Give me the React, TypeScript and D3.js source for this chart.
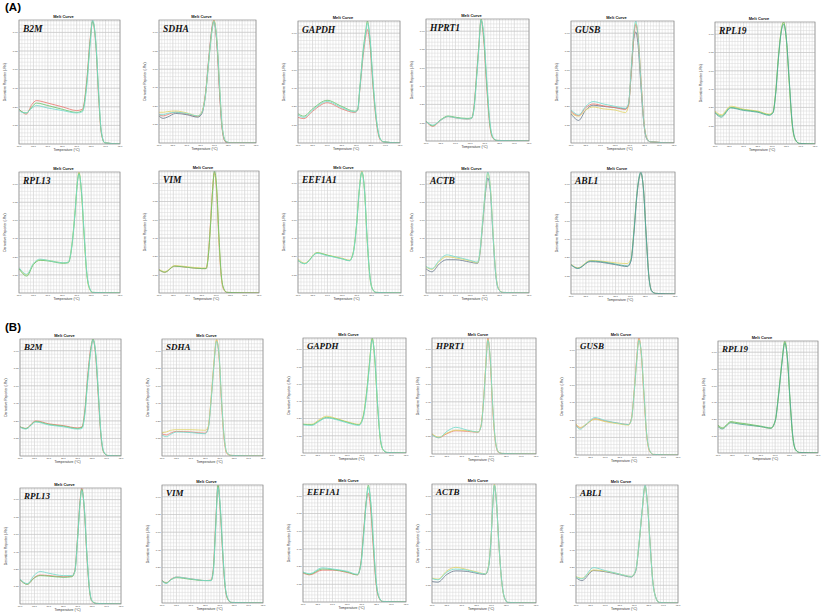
import React from "react";
import * as d3 from "d3";

// ---------- axis ticks ----------
const X_TICKS = [60, 65, 70, 75, 80, 85, 90, 95];
const Y_TICKS = [0.15, 0.3, 0.45, 0.6, 0.75, 0.9];

const COLORS: Record<string, string> = {
  red: "#ea7d74",
  green: "#6cc46c",
  cyan: "#76dccc",
  yellow: "#e2d46a",
  gray: "#6f7f92",
  teal: "#4fae9c",
};

// ---------- (A) panels ----------
const A_B2M_T = [60, 61, 62.5, 64.5, 66, 70, 75, 80, 82, 83.5, 84.7, 85.5, 86.7, 87.6, 88.5, 89.7, 95];
const A_B2M_V = [
  [0.28, 0.26, 0.24, 0.32, 0.35, 0.33, 0.3, 0.27, 0.28, 0.52, 0.86, 0.99, 0.77, 0.37, 0.09, 0.01, 0],
  [0.28, 0.26, 0.25, 0.3, 0.33, 0.31, 0.28, 0.255, 0.27, 0.5, 0.84, 0.99, 0.79, 0.4, 0.1, 0.01, 0],
  [0.27, 0.255, 0.25, 0.29, 0.31, 0.29, 0.27, 0.25, 0.26, 0.47, 0.82, 1.0, 0.8, 0.42, 0.11, 0.01, 0],
];
const A_B2M_C = ["red", "green", "cyan"];

const A_SDHA_T = [60, 61.5, 63, 66, 70, 74, 75.5, 76.8, 78, 79.2, 79.8, 81, 82, 82.8, 84, 86, 95];
const A_SDHA_V = [
  [0.23, 0.22, 0.23, 0.25, 0.235, 0.215, 0.25, 0.41, 0.7, 0.95, 1.0, 0.76, 0.35, 0.11, 0.01, 0, 0],
  [0.22, 0.2, 0.21, 0.24, 0.23, 0.21, 0.24, 0.4, 0.69, 0.94, 0.99, 0.78, 0.37, 0.12, 0.01, 0, 0],
  [0.25, 0.25, 0.255, 0.26, 0.245, 0.22, 0.255, 0.4, 0.68, 0.93, 1.0, 0.8, 0.4, 0.13, 0.015, 0, 0],
  [0.23, 0.23, 0.24, 0.25, 0.24, 0.22, 0.25, 0.39, 0.67, 0.92, 0.99, 0.81, 0.42, 0.14, 0.02, 0, 0],
];
const A_SDHA_C = ["red", "gray", "yellow", "cyan"];

const A_GAPDH_T = [60, 62, 65, 70, 75, 79.5, 80.5, 81.2, 82.4, 83.3, 83.8, 84.7, 85.8, 87, 88.1, 89.3, 95];
const A_GAPDH_V = [
  [0.21, 0.2, 0.26, 0.33, 0.28, 0.25, 0.27, 0.43, 0.72, 0.88, 0.93, 0.8, 0.44, 0.15, 0.03, 0.01, 0],
  [0.24, 0.22, 0.28, 0.35, 0.3, 0.26, 0.28, 0.45, 0.77, 0.93, 1.0, 0.85, 0.47, 0.17, 0.04, 0.01, 0],
  [0.23, 0.21, 0.27, 0.34, 0.29, 0.255, 0.27, 0.44, 0.75, 0.91, 0.98, 0.86, 0.49, 0.18, 0.04, 0.01, 0],
];
const A_GAPDH_C = ["red", "green", "cyan"];

const A_HPRT1_T = [60, 62.3, 65, 67.5, 70, 74, 75.5, 76.3, 77.2, 78, 78.7, 79.6, 80.6, 81.7, 82.8, 84, 95];
const A_HPRT1_V = [
  [0.16, 0.12, 0.17, 0.2, 0.19, 0.18, 0.185, 0.28, 0.55, 0.8, 0.99, 0.83, 0.45, 0.12, 0.02, 0.005, 0],
  [0.165, 0.125, 0.175, 0.205, 0.195, 0.185, 0.19, 0.27, 0.53, 0.79, 1.0, 0.86, 0.49, 0.14, 0.025, 0.005, 0],
  [0.16, 0.13, 0.17, 0.2, 0.19, 0.18, 0.185, 0.26, 0.51, 0.77, 0.99, 0.88, 0.52, 0.16, 0.03, 0.005, 0],
];
const A_HPRT1_C = ["red", "green", "cyan"];

const A_GUSB_T = [60, 61, 62.6, 65, 67.5, 71, 75, 78.5, 79.5, 80.5, 81.3, 82, 82.8, 83.8, 84.8, 85.8, 87, 95];
const A_GUSB_V = [
  [0.24, 0.21, 0.185, 0.27, 0.31, 0.3, 0.29, 0.28, 0.31, 0.58, 0.84, 0.91, 0.8, 0.45, 0.15, 0.03, 0.01, 0],
  [0.25, 0.23, 0.22, 0.27, 0.295, 0.28, 0.27, 0.25, 0.3, 0.6, 0.88, 0.98, 0.88, 0.51, 0.17, 0.04, 0.01, 0],
  [0.26, 0.24, 0.225, 0.29, 0.32, 0.305, 0.29, 0.275, 0.31, 0.6, 0.87, 0.97, 0.86, 0.5, 0.16, 0.035, 0.01, 0],
  [0.27, 0.25, 0.23, 0.3, 0.34, 0.32, 0.3, 0.285, 0.32, 0.62, 0.9, 1.0, 0.87, 0.49, 0.16, 0.035, 0.01, 0],
];
const A_GUSB_C = ["gray", "yellow", "red", "cyan"];

const A_RPL19_T = [60, 62.2, 65.5, 70, 75, 79, 80.3, 81.2, 82.2, 83.2, 84, 85, 86, 87, 88.2, 89.5, 95];
const A_RPL19_V = [
  [0.27, 0.24, 0.31, 0.285, 0.27, 0.245, 0.265, 0.42, 0.72, 0.94, 1.0, 0.84, 0.49, 0.16, 0.03, 0.005, 0],
  [0.26, 0.23, 0.3, 0.28, 0.265, 0.24, 0.26, 0.41, 0.71, 0.93, 1.0, 0.85, 0.5, 0.17, 0.03, 0.005, 0],
  [0.255, 0.22, 0.295, 0.275, 0.26, 0.235, 0.255, 0.4, 0.7, 0.92, 0.98, 0.86, 0.52, 0.18, 0.035, 0.005, 0],
];
const A_RPL19_C = ["yellow", "green", "teal"];

const A_RPL13_T = [60, 62.7, 65, 67.3, 70, 75.4, 77.1, 78.3, 79.5, 80.2, 80.8, 81.7, 82.6, 83.5, 84.5, 85.5, 95];
const A_RPL13_V = [
  [0.205, 0.15, 0.24, 0.275, 0.27, 0.25, 0.255, 0.4, 0.7, 0.92, 1.0, 0.8, 0.45, 0.15, 0.03, 0.005, 0],
  [0.2, 0.14, 0.235, 0.27, 0.265, 0.245, 0.25, 0.38, 0.68, 0.9, 0.99, 0.82, 0.47, 0.16, 0.035, 0.005, 0],
  [0.21, 0.155, 0.245, 0.28, 0.27, 0.25, 0.255, 0.39, 0.69, 0.91, 0.98, 0.83, 0.48, 0.17, 0.04, 0.005, 0],
];
const A_RPL13_C = ["yellow", "green", "cyan"];

const A_VIM_T = [60, 62, 65.5, 70, 75, 76.5, 77.3, 78, 78.7, 79.4, 80.2, 81, 81.8, 82.7, 83.8, 95];
const A_VIM_V = [
  [0.19, 0.17, 0.22, 0.21, 0.2, 0.2, 0.33, 0.57, 0.84, 0.99, 0.82, 0.41, 0.13, 0.025, 0.005, 0],
  [0.195, 0.175, 0.225, 0.215, 0.205, 0.205, 0.32, 0.55, 0.82, 0.98, 0.85, 0.44, 0.14, 0.03, 0.005, 0],
  [0.19, 0.17, 0.22, 0.21, 0.2, 0.2, 0.31, 0.54, 0.81, 1.0, 0.86, 0.46, 0.15, 0.035, 0.005, 0],
];
const A_VIM_C = ["red", "yellow", "green"];

const A_EEF1A1_T = [60, 62.3, 66.5, 70, 75, 77.5, 78.7, 79.9, 80.8, 81.7, 82.6, 83.5, 84.4, 85.3, 86.5, 95];
const A_EEF1A1_V = [
  [0.28, 0.245, 0.33, 0.31, 0.285, 0.27, 0.33, 0.57, 0.85, 1.0, 0.83, 0.42, 0.13, 0.03, 0.005, 0],
  [0.265, 0.24, 0.33, 0.31, 0.28, 0.265, 0.32, 0.55, 0.83, 0.99, 0.85, 0.45, 0.15, 0.035, 0.005, 0],
  [0.27, 0.24, 0.325, 0.305, 0.28, 0.265, 0.32, 0.56, 0.84, 0.99, 0.84, 0.44, 0.14, 0.03, 0.005, 0],
];
const A_EEF1A1_C = ["yellow", "green", "cyan"];

const A_ACTB_T = [60, 62, 64.5, 67, 70, 75, 77.5, 78.2, 79.2, 80.2, 81, 81.9, 82.8, 83.7, 84.7, 86, 95];
const A_ACTB_V = [
  [0.2, 0.175, 0.24, 0.275, 0.275, 0.255, 0.245, 0.3, 0.55, 0.82, 0.95, 0.83, 0.46, 0.15, 0.03, 0.005, 0],
  [0.215, 0.195, 0.26, 0.3, 0.29, 0.265, 0.25, 0.31, 0.57, 0.85, 0.99, 0.87, 0.49, 0.17, 0.035, 0.005, 0],
  [0.22, 0.2, 0.27, 0.315, 0.3, 0.27, 0.255, 0.32, 0.58, 0.86, 1.0, 0.86, 0.48, 0.16, 0.03, 0.005, 0],
];
const A_ACTB_C = ["gray", "yellow", "cyan"];

const A_ABL1_T = [60, 62.3, 66.5, 70, 75, 79, 80.2, 81.2, 82.1, 82.9, 83.5, 84.4, 85.3, 86.2, 87.2, 88.5, 95];
const A_ABL1_V = [
  [0.245, 0.215, 0.275, 0.27, 0.255, 0.25, 0.29, 0.53, 0.8, 0.95, 0.99, 0.86, 0.48, 0.15, 0.025, 0.005, 0],
  [0.24, 0.21, 0.265, 0.26, 0.24, 0.225, 0.27, 0.5, 0.78, 0.94, 0.99, 0.86, 0.49, 0.15, 0.025, 0.005, 0],
  [0.24, 0.21, 0.27, 0.265, 0.245, 0.23, 0.28, 0.52, 0.8, 0.96, 1.0, 0.85, 0.47, 0.14, 0.02, 0.005, 0],
];
const A_ABL1_C = ["yellow", "gray", "teal"];

// ---------- (B) panels ----------
const B_B2M_T = [60, 62, 65.5, 70, 75, 80, 81.5, 82.5, 83.5, 84.5, 85.3, 86.2, 87.1, 88, 89, 90.3, 95];
const B_B2M_V = [
  [0.25, 0.235, 0.3, 0.275, 0.26, 0.24, 0.25, 0.4, 0.7, 0.92, 0.99, 0.86, 0.52, 0.18, 0.03, 0.005, 0],
  [0.25, 0.235, 0.295, 0.27, 0.255, 0.235, 0.245, 0.38, 0.67, 0.9, 1.0, 0.88, 0.55, 0.2, 0.035, 0.005, 0],
  [0.245, 0.23, 0.29, 0.265, 0.25, 0.23, 0.235, 0.36, 0.65, 0.89, 0.99, 0.89, 0.57, 0.21, 0.04, 0.005, 0],
];
const B_B2M_C = ["red", "green", "cyan"];

const B_SDHA_T = [60, 61.5, 63, 65, 70, 75, 76, 77, 78, 78.9, 79.8, 80.6, 81.5, 82.5, 84, 95];
const B_SDHA_V = [
  [0.19, 0.18, 0.195, 0.21, 0.205, 0.195, 0.24, 0.48, 0.79, 0.99, 0.83, 0.46, 0.15, 0.02, 0.005, 0],
  [0.2, 0.205, 0.22, 0.225, 0.225, 0.22, 0.25, 0.49, 0.8, 1.0, 0.85, 0.49, 0.17, 0.025, 0.005, 0],
  [0.18, 0.165, 0.185, 0.205, 0.2, 0.19, 0.23, 0.46, 0.77, 0.98, 0.86, 0.5, 0.18, 0.03, 0.005, 0],
];
const B_SDHA_C = ["red", "yellow", "cyan"];

const B_GAPDH_T = [60, 63, 65.5, 68, 72, 76, 79, 80.5, 81.6, 82.6, 83.5, 84.4, 85.3, 86.2, 87.2, 88.5, 95];
const B_GAPDH_V = [
  [0.25, 0.25, 0.29, 0.32, 0.295, 0.265, 0.25, 0.33, 0.53, 0.79, 0.99, 0.8, 0.42, 0.13, 0.025, 0.005, 0],
  [0.25, 0.245, 0.28, 0.31, 0.29, 0.26, 0.245, 0.32, 0.52, 0.78, 1.0, 0.82, 0.43, 0.14, 0.03, 0.005, 0],
  [0.245, 0.24, 0.275, 0.305, 0.285, 0.255, 0.24, 0.31, 0.5, 0.76, 0.98, 0.84, 0.45, 0.15, 0.03, 0.005, 0],
];
const B_GAPDH_C = ["yellow", "green", "cyan"];

const B_HPRT1_T = [60, 62.3, 65, 68, 72, 75.5, 76.5, 77.3, 78.1, 78.8, 79.6, 80.4, 81.3, 82.3, 83.5, 95];
const B_HPRT1_V = [
  [0.17, 0.14, 0.175, 0.2, 0.195, 0.187, 0.24, 0.44, 0.76, 1.0, 0.8, 0.4, 0.11, 0.015, 0.005, 0],
  [0.175, 0.145, 0.18, 0.205, 0.2, 0.19, 0.245, 0.45, 0.77, 0.99, 0.82, 0.42, 0.12, 0.02, 0.005, 0],
  [0.165, 0.14, 0.195, 0.23, 0.205, 0.19, 0.235, 0.43, 0.74, 0.98, 0.83, 0.44, 0.13, 0.02, 0.005, 0],
];
const B_HPRT1_C = ["red", "yellow", "cyan"];

const B_GUSB_T = [60, 61.5, 63, 66.5, 70, 75, 78, 79, 80, 80.8, 81.6, 82.4, 83.3, 84.2, 85.2, 86.5, 95];
const B_GUSB_V = [
  [0.26, 0.23, 0.25, 0.31, 0.29, 0.27, 0.26, 0.31, 0.56, 0.82, 1.0, 0.86, 0.51, 0.18, 0.035, 0.005, 0],
  [0.265, 0.235, 0.255, 0.305, 0.285, 0.265, 0.255, 0.3, 0.55, 0.8, 0.99, 0.87, 0.53, 0.19, 0.04, 0.005, 0],
  [0.25, 0.22, 0.25, 0.32, 0.295, 0.27, 0.26, 0.3, 0.54, 0.79, 0.98, 0.88, 0.55, 0.2, 0.045, 0.005, 0],
];
const B_GUSB_C = ["red", "yellow", "cyan"];

const B_RPL19_T = [60, 61.5, 64.5, 67, 70, 75, 78.5, 80, 81.2, 82.3, 83.4, 84.3, 85.2, 86.2, 87.2, 88.5, 95];
const B_RPL19_V = [
  [0.24, 0.22, 0.275, 0.265, 0.255, 0.235, 0.22, 0.28, 0.52, 0.79, 0.99, 0.84, 0.48, 0.14, 0.03, 0.005, 0],
  [0.25, 0.225, 0.28, 0.27, 0.26, 0.24, 0.225, 0.29, 0.53, 0.8, 1.0, 0.83, 0.46, 0.13, 0.025, 0.005, 0],
  [0.235, 0.215, 0.27, 0.26, 0.25, 0.235, 0.22, 0.28, 0.51, 0.78, 0.98, 0.85, 0.49, 0.15, 0.03, 0.005, 0],
];
const B_RPL19_C = ["yellow", "green", "teal"];

const B_RPL13_T = [60, 62.5, 65, 67, 70, 75, 78, 79, 80, 80.8, 81.4, 82.3, 83.2, 84.1, 85, 86.5, 95];
const B_RPL13_V = [
  [0.21, 0.17, 0.23, 0.25, 0.245, 0.235, 0.24, 0.29, 0.6, 0.89, 1.0, 0.8, 0.4, 0.11, 0.02, 0.005, 0],
  [0.21, 0.17, 0.225, 0.245, 0.24, 0.23, 0.235, 0.28, 0.58, 0.87, 0.99, 0.82, 0.42, 0.12, 0.025, 0.005, 0],
  [0.215, 0.175, 0.25, 0.28, 0.265, 0.245, 0.245, 0.28, 0.57, 0.86, 0.98, 0.83, 0.43, 0.13, 0.025, 0.005, 0],
];
const B_RPL13_C = ["red", "green", "cyan"];

const B_VIM_T = [60, 61.5, 63, 65, 70, 75, 77, 77.8, 78.6, 79.4, 80.2, 81, 81.8, 82.8, 84, 95];
const B_VIM_V = [
  [0.19, 0.17, 0.2, 0.22, 0.205, 0.19, 0.195, 0.3, 0.68, 0.99, 0.78, 0.43, 0.15, 0.03, 0.005, 0],
  [0.19, 0.17, 0.195, 0.215, 0.2, 0.19, 0.19, 0.28, 0.65, 1.0, 0.8, 0.45, 0.16, 0.035, 0.005, 0],
  [0.185, 0.165, 0.195, 0.22, 0.205, 0.19, 0.19, 0.27, 0.63, 0.98, 0.82, 0.47, 0.17, 0.04, 0.005, 0],
];
const B_VIM_C = ["red", "green", "cyan"];

const B_EEF1A1_T = [60, 62.3, 66.5, 70, 75, 78.5, 79.7, 80.6, 81.5, 82.2, 83, 83.9, 84.8, 85.8, 87, 95];
const B_EEF1A1_V = [
  [0.245, 0.23, 0.27, 0.27, 0.25, 0.23, 0.34, 0.6, 0.85, 0.92, 0.78, 0.45, 0.16, 0.035, 0.005, 0],
  [0.25, 0.235, 0.28, 0.275, 0.255, 0.23, 0.33, 0.58, 0.86, 0.99, 0.84, 0.5, 0.18, 0.04, 0.005, 0],
  [0.255, 0.24, 0.29, 0.28, 0.26, 0.235, 0.32, 0.56, 0.84, 0.97, 0.86, 0.53, 0.2, 0.045, 0.005, 0],
];
const B_EEF1A1_C = ["red", "green", "cyan"];

const B_ACTB_T = [60, 62, 65, 68, 72, 76, 78, 79, 79.9, 80.5, 81, 81.7, 82.5, 83.4, 84.3, 85.5, 95];
const B_ACTB_V = [
  [0.18, 0.175, 0.24, 0.27, 0.265, 0.245, 0.24, 0.3, 0.55, 0.85, 0.99, 0.84, 0.5, 0.2, 0.05, 0.005, 0],
  [0.21, 0.2, 0.27, 0.3, 0.28, 0.255, 0.245, 0.31, 0.56, 0.85, 1.0, 0.84, 0.49, 0.19, 0.05, 0.005, 0],
  [0.205, 0.195, 0.26, 0.285, 0.275, 0.25, 0.245, 0.3, 0.55, 0.84, 0.99, 0.85, 0.5, 0.2, 0.055, 0.005, 0],
];
const B_ACTB_C = ["gray", "yellow", "cyan"];

const B_ABL1_T = [60, 62, 66, 70, 75, 79, 80.5, 81.6, 82.7, 83.7, 84.5, 85.4, 86.3, 87.3, 88.5, 95];
const B_ABL1_V = [
  [0.215, 0.19, 0.275, 0.265, 0.24, 0.22, 0.27, 0.49, 0.78, 0.99, 0.85, 0.52, 0.2, 0.055, 0.005, 0],
  [0.225, 0.21, 0.28, 0.27, 0.245, 0.225, 0.28, 0.5, 0.78, 0.99, 0.85, 0.51, 0.2, 0.05, 0.005, 0],
  [0.22, 0.205, 0.3, 0.275, 0.245, 0.225, 0.28, 0.5, 0.79, 1.0, 0.84, 0.5, 0.19, 0.05, 0.005, 0],
];
const B_ABL1_C = ["gray", "yellow", "cyan"];

const DATA: Record<string, { t: number[]; v: number[][]; c: string[] }> = {
  A_B2M: { t: A_B2M_T, v: A_B2M_V, c: A_B2M_C },
  A_SDHA: { t: A_SDHA_T, v: A_SDHA_V, c: A_SDHA_C },
  A_GAPDH: { t: A_GAPDH_T, v: A_GAPDH_V, c: A_GAPDH_C },
  A_HPRT1: { t: A_HPRT1_T, v: A_HPRT1_V, c: A_HPRT1_C },
  A_GUSB: { t: A_GUSB_T, v: A_GUSB_V, c: A_GUSB_C },
  A_RPL19: { t: A_RPL19_T, v: A_RPL19_V, c: A_RPL19_C },
  A_RPL13: { t: A_RPL13_T, v: A_RPL13_V, c: A_RPL13_C },
  A_VIM: { t: A_VIM_T, v: A_VIM_V, c: A_VIM_C },
  A_EEF1A1: { t: A_EEF1A1_T, v: A_EEF1A1_V, c: A_EEF1A1_C },
  A_ACTB: { t: A_ACTB_T, v: A_ACTB_V, c: A_ACTB_C },
  A_ABL1: { t: A_ABL1_T, v: A_ABL1_V, c: A_ABL1_C },
  B_B2M: { t: B_B2M_T, v: B_B2M_V, c: B_B2M_C },
  B_SDHA: { t: B_SDHA_T, v: B_SDHA_V, c: B_SDHA_C },
  B_GAPDH: { t: B_GAPDH_T, v: B_GAPDH_V, c: B_GAPDH_C },
  B_HPRT1: { t: B_HPRT1_T, v: B_HPRT1_V, c: B_HPRT1_C },
  B_GUSB: { t: B_GUSB_T, v: B_GUSB_V, c: B_GUSB_C },
  B_RPL19: { t: B_RPL19_T, v: B_RPL19_V, c: B_RPL19_C },
  B_RPL13: { t: B_RPL13_T, v: B_RPL13_V, c: B_RPL13_C },
  B_VIM: { t: B_VIM_T, v: B_VIM_V, c: B_VIM_C },
  B_EEF1A1: { t: B_EEF1A1_T, v: B_EEF1A1_V, c: B_EEF1A1_C },
  B_ACTB: { t: B_ACTB_T, v: B_ACTB_V, c: B_ACTB_C },
  B_ABL1: { t: B_ABL1_T, v: B_ABL1_V, c: B_ABL1_C },
};

// ---------- layout (pixel boxes of each plot area) ----------
const LAYOUT = [
  { key: "A_B2M", gene: "B2M", x0: 19, x1: 120, y0: 20, y1: 144 },
  { key: "A_SDHA", gene: "SDHA", x0: 159, x1: 256, y0: 20, y1: 143 },
  { key: "A_GAPDH", gene: "GAPDH", x0: 298, x1: 400, y0: 21, y1: 143 },
  { key: "A_HPRT1", gene: "HPRT1", x0: 426, x1: 529, y0: 19, y1: 141 },
  { key: "A_GUSB", gene: "GUSB", x0: 571, x1: 674, y0: 21, y1: 143 },
  { key: "A_RPL19", gene: "RPL19", x0: 715, x1: 815, y0: 22, y1: 144 },
  { key: "A_RPL13", gene: "RPL13", x0: 19, x1: 120, y0: 172, y1: 293 },
  { key: "A_VIM", gene: "VIM", x0: 159, x1: 259, y0: 171, y1: 293 },
  { key: "A_EEF1A1", gene: "EEF1A1", x0: 298, x1: 401, y0: 171, y1: 293 },
  { key: "A_ACTB", gene: "ACTB", x0: 426, x1: 529, y0: 172, y1: 293 },
  { key: "A_ABL1", gene: "ABL1", x0: 571, x1: 675, y0: 172, y1: 294 },
  { key: "B_B2M", gene: "B2M", x0: 20, x1: 121, y0: 339, y1: 456 },
  { key: "B_SDHA", gene: "SDHA", x0: 162, x1: 263, y0: 339, y1: 456 },
  { key: "B_GAPDH", gene: "GAPDH", x0: 303, x1: 406, y0: 338, y1: 453 },
  { key: "B_HPRT1", gene: "HPRT1", x0: 432, x1: 536, y0: 338, y1: 454 },
  { key: "B_GUSB", gene: "GUSB", x0: 576, x1: 678, y0: 338, y1: 455 },
  { key: "B_RPL19", gene: "RPL19", x0: 718, x1: 818, y0: 341, y1: 453 },
  { key: "B_RPL13", gene: "RPL13", x0: 20, x1: 121, y0: 488, y1: 604 },
  { key: "B_VIM", gene: "VIM", x0: 162, x1: 263, y0: 485, y1: 603 },
  { key: "B_EEF1A1", gene: "EEF1A1", x0: 303, x1: 406, y0: 484, y1: 602 },
  { key: "B_ACTB", gene: "ACTB", x0: 432, x1: 536, y0: 484, y1: 603 },
  { key: "B_ABL1", gene: "ABL1", x0: 576, x1: 678, y0: 485, y1: 603 },
];

const SANS = "Arial, 'Liberation Sans', sans-serif";
const SERIF = "'Liberation Serif', 'Times New Roman', serif";

function Panel({ p }: { p: (typeof LAYOUT)[number] }) {
  const d = DATA[p.key];
  const x = d3.scaleLinear().domain([60, 95]).range([p.x0, p.x1]);
  const y = d3.scaleLinear().domain([0, 1]).range([p.y1, p.y0]);
  const minorX = d3.range(60, 95.01, 1);
  const minorY = d3.range(0, 1.0001, 0.03);
  const clipId = "clip-" + p.key;
  const isB = p.key.startsWith("B");
  const cx = (p.x0 + p.x1) / 2;
  const cy = (p.y0 + p.y1) / 2;
  const fmtX = d3.format(".1f");
  const fmtY = d3.format(".2f");
  return (
    <g>
      <defs>
        <clipPath id={clipId}>
          <rect x={p.x0} y={p.y0} width={p.x1 - p.x0} height={p.y1 - p.y0} />
        </clipPath>
      </defs>
      <rect x={p.x0} y={p.y0} width={p.x1 - p.x0} height={p.y1 - p.y0} fill="#ffffff" />
      {minorX.map((t) => (
        <line key={"vx" + t} x1={x(t)} x2={x(t)} y1={p.y0} y2={p.y1}
          stroke={t % 5 === 0 ? "#bdbdbd" : "#d9d9d9"} strokeWidth={0.5} />
      ))}
      {minorY.map((t, i) => (
        <line key={"hy" + i} x1={p.x0} x2={p.x1} y1={y(t)} y2={y(t)} stroke="#d9d9d9" strokeWidth={0.5} />
      ))}
      {Y_TICKS.map((t) => (
        <line key={"my" + t} x1={p.x0} x2={p.x1} y1={y(t)} y2={y(t)} stroke="#bdbdbd" strokeWidth={0.5} />
      ))}
      <g clipPath={`url(#${clipId})`}>
        {d.v.map((vals, i) => {
          const line = d3
            .line<number>()
            .x((_, j) => x(d.t[j]))
            .y((v) => y(v))
            .curve(d3.curveMonotoneX);
          return (
            <path key={i} d={line(vals) || ""} fill="none" stroke={COLORS[d.c[i]]}
              strokeWidth={0.85} />
          );
        })}
      </g>
      <rect x={p.x0} y={p.y0} width={p.x1 - p.x0} height={p.y1 - p.y0} fill="none"
        stroke="#8c8c8c" strokeWidth={0.7} />
      {X_TICKS.map((t) => (
        <text key={"xt" + t} x={x(t)} y={p.y1 + 3.2} fontSize={2.4} fontFamily={SANS}
          textAnchor="middle" fill="#333">{fmtX(t)}</text>
      ))}
      {Y_TICKS.map((t) => (
        <text key={"yt" + t} x={p.x0 - 1.5} y={y(t) + 0.8} fontSize={2.4} fontFamily={SANS}
          textAnchor="end" fill="#333">{fmtY(t)}</text>
      ))}
      <text x={cx - 6} y={p.y0 - 2.5} fontSize={4} fontWeight="bold" fontFamily={SANS}
        textAnchor="middle" fill="#111">Melt Curve</text>
      <text x={cx - 3} y={p.y1 + 6.8} fontSize={3.4} fontFamily={SANS} textAnchor="middle"
        fill="#333">Temperature (°C)</text>
      <text transform={`translate(${p.x0 - 13},${cy}) rotate(-90)`} fontSize={3.4}
        fontFamily={SANS} textAnchor="middle" fill="#333">Derivative Reporter (-Rn')</text>
      <text x={p.x0 + 4} y={p.y0 + (isB ? 11 : 12)} fontSize={isB ? 9 : 9.5}
        fontWeight="bold" fontStyle="italic" fontFamily={SERIF} fill="#111">{p.gene}</text>
    </g>
  );
}

export default function App() {
  return (
    <svg width={827} height={615} style={{ position: "absolute", left: 0, top: 0, background: "#fff" }}>
      <rect x={0} y={0} width={827} height={615} fill="#ffffff" />
      <text x={5} y={11} fontSize={11.5} fontWeight="bold" fontFamily={SANS} fill="#000">(A)</text>
      <text x={5} y={331} fontSize={11.5} fontWeight="bold" fontFamily={SANS} fill="#000">(B)</text>
      {LAYOUT.map((p) => (
        <Panel key={p.key} p={p} />
      ))}
    </svg>
  );
}
